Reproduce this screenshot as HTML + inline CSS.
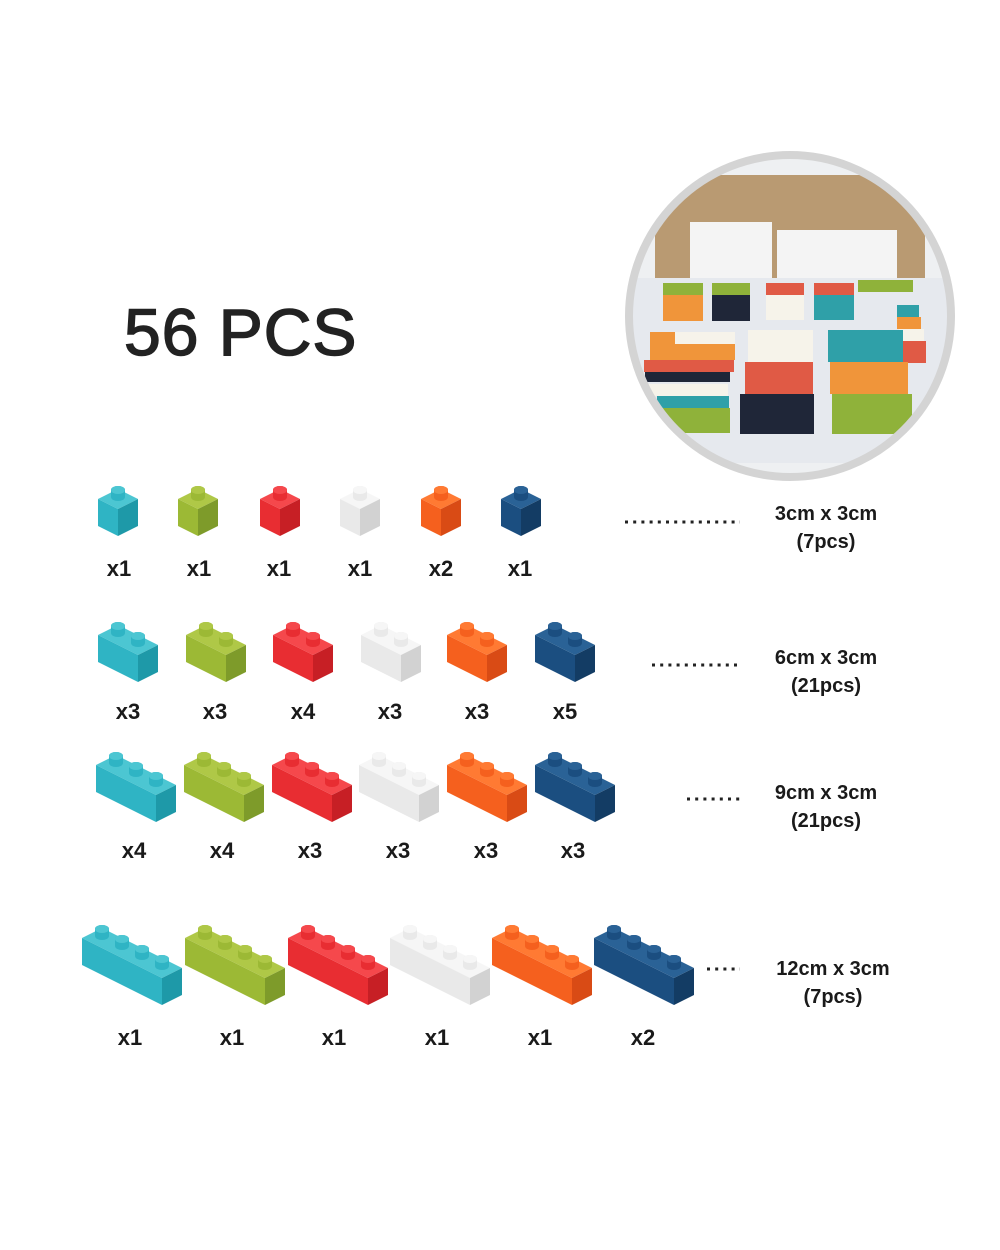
<!DOCTYPE html><html><head><style>body{margin:0;background:#fff}svg{display:block}</style></head><body>
<svg width="1000" height="1250" viewBox="0 0 1000 1250" xmlns="http://www.w3.org/2000/svg" font-family="Liberation Sans, sans-serif">
<defs>
<clipPath id="cc"><circle cx="790" cy="316" r="160"/></clipPath>
<g id="s"><path d="M-7,-2 v-7 a7,4 0 0 1 14,0 v7 a7,4 0 0 1 -14,0z" style="fill:var(--f)"/><ellipse cx="0" cy="-9" rx="7" ry="4" style="fill:var(--t)"/></g>
<g id="b1"><path style="fill:var(--t)" d="M0,0 L20,-10 L40,0 L20,10z"/><path style="fill:var(--f)" d="M0,0 L20,10 L20,37 L0,27z"/><path style="fill:var(--r)" d="M20,10 L40,0 L40,27 L20,37z"/><use href="#s" x="20" y="0"/></g>
<g id="b2"><path style="fill:var(--t)" d="M0,0 L20,-10 L60,10 L40,20z"/><path style="fill:var(--f)" d="M0,0 L40,20 L40,47 L0,27z"/><path style="fill:var(--r)" d="M40,20 L60,10 L60,37 L40,47z"/><use href="#s" x="20" y="0"/><use href="#s" x="40" y="10"/></g>
<g id="b3"><path style="fill:var(--t)" d="M0,0 L20,-10 L80,20 L60,30z"/><path style="fill:var(--f)" d="M0,0 L60,30 L60,57 L0,27z"/><path style="fill:var(--r)" d="M60,30 L80,20 L80,47 L60,57z"/><use href="#s" x="20" y="0"/><use href="#s" x="40" y="10"/><use href="#s" x="60" y="20"/></g>
<g id="b4"><path style="fill:var(--t)" d="M0,0 L20,-10 L100,30 L80,40z"/><path style="fill:var(--f)" d="M0,0 L80,40 L80,67 L0,27z"/><path style="fill:var(--r)" d="M80,40 L100,30 L100,57 L80,67z"/><use href="#s" x="20" y="0"/><use href="#s" x="40" y="10"/><use href="#s" x="60" y="20"/><use href="#s" x="80" y="30"/></g>
</defs>
<style>
.c{--t:#4cc6d2;--f:#2fb4c4;--r:#1e99a8}
.g{--t:#afc847;--f:#9cb935;--r:#7e9b2a}
.rd{--t:#f5484c;--f:#e82d32;--r:#c71f25}
.w{--t:#f6f6f6;--f:#e9e9e9;--r:#d2d2d2}
.o{--t:#ff7a33;--f:#f5601e;--r:#d94b15}
.n{--t:#2a6296;--f:#1b4e80;--r:#133c64}
</style>

<text x="124" y="355" font-size="66" fill="#222" stroke="#222" stroke-width="1.5" letter-spacing="1">56 PCS</text>

<circle cx="790" cy="316" r="164" fill="#ddd"/>
<g clip-path="url(#cc)">
<rect x="620" y="150" width="340" height="340" fill="#eef0f2"/>
<rect x="655" y="175" width="270" height="110" fill="#b99a72"/>
<rect x="690" y="222" width="82" height="57" fill="#f4f4f4"/>
<rect x="777" y="230" width="120" height="50" fill="#f4f4f4"/>
<rect x="630" y="278" width="330" height="185" fill="#e6e9ee"/>
<rect x="663" y="283" width="40" height="12" fill="#8fb23a"/><rect x="663" y="295" width="40" height="26" fill="#f0953a"/>
<rect x="712" y="283" width="38" height="12" fill="#8fb23a"/><rect x="712" y="295" width="38" height="26" fill="#1f2638"/>
<rect x="766" y="283" width="38" height="12" fill="#e05a45"/><rect x="766" y="295" width="38" height="25" fill="#f6f3ea"/>
<rect x="814" y="283" width="40" height="12" fill="#e05a45"/><rect x="814" y="295" width="40" height="25" fill="#2fa0a8"/>
<rect x="858" y="280" width="55" height="12" fill="#8fb23a"/>
<rect x="897" y="305" width="22" height="12" fill="#2fa0a8"/><rect x="897" y="317" width="24" height="12" fill="#f0953a"/><rect x="899" y="329" width="25" height="12" fill="#f6f3ea"/><rect x="900" y="341" width="26" height="22" fill="#e05a45"/>
<rect x="650" y="332" width="85" height="28" fill="#f0953a"/><rect x="675" y="332" width="60" height="12" fill="#f6f3ea"/>
<rect x="644" y="360" width="90" height="12" fill="#e05a45"/><rect x="645" y="372" width="85" height="10" fill="#1f2638"/><rect x="648" y="384" width="80" height="12" fill="#f6f3ea"/><rect x="657" y="396" width="72" height="12" fill="#2fa0a8"/><rect x="660" y="408" width="70" height="25" fill="#8fb23a"/>
<rect x="748" y="330" width="65" height="32" fill="#f6f3ea"/><rect x="745" y="362" width="68" height="32" fill="#e05a45"/><rect x="740" y="394" width="74" height="40" fill="#1f2638"/>
<rect x="828" y="330" width="75" height="32" fill="#2fa0a8"/><rect x="830" y="362" width="78" height="32" fill="#f0953a"/><rect x="832" y="394" width="80" height="40" fill="#8fb23a"/>
</g>
<circle cx="790" cy="316" r="161" fill="none" stroke="#d4d4d4" stroke-width="8"/>

<use href="#b1" class="c" x="98" y="499"/><use href="#b1" class="g" x="178" y="499"/><use href="#b1" class="rd" x="260" y="499"/><use href="#b1" class="w" x="340" y="499"/><use href="#b1" class="o" x="421" y="499"/><use href="#b1" class="n" x="501" y="499"/>
<use href="#b2" class="c" x="98" y="635"/><use href="#b2" class="g" x="186" y="635"/><use href="#b2" class="rd" x="273" y="635"/><use href="#b2" class="w" x="361" y="635"/><use href="#b2" class="o" x="447" y="635"/><use href="#b2" class="n" x="535" y="635"/>
<use href="#b3" class="c" x="96" y="765"/><use href="#b3" class="g" x="184" y="765"/><use href="#b3" class="rd" x="272" y="765"/><use href="#b3" class="w" x="359" y="765"/><use href="#b3" class="o" x="447" y="765"/><use href="#b3" class="n" x="535" y="765"/>
<use href="#b4" class="c" x="82" y="938"/><use href="#b4" class="g" x="185" y="938"/><use href="#b4" class="rd" x="288" y="938"/><use href="#b4" class="w" x="390" y="938"/><use href="#b4" class="o" x="492" y="938"/><use href="#b4" class="n" x="594" y="938"/>

<g font-size="22" font-weight="bold" fill="#1a1a1a" text-anchor="middle">
<text x="119" y="576">x1</text><text x="199" y="576">x1</text><text x="279" y="576">x1</text><text x="360" y="576">x1</text><text x="441" y="576">x2</text><text x="520" y="576">x1</text>
<text x="128" y="719">x3</text><text x="215" y="719">x3</text><text x="303" y="719">x4</text><text x="390" y="719">x3</text><text x="477" y="719">x3</text><text x="565" y="719">x5</text>
<text x="134" y="858">x4</text><text x="222" y="858">x4</text><text x="310" y="858">x3</text><text x="398" y="858">x3</text><text x="486" y="858">x3</text><text x="573" y="858">x3</text>
<text x="130" y="1045">x1</text><text x="232" y="1045">x1</text><text x="334" y="1045">x1</text><text x="437" y="1045">x1</text><text x="540" y="1045">x1</text><text x="643" y="1045">x2</text>
</g>
<g font-size="20" font-weight="bold" fill="#1a1a1a" text-anchor="middle">
<text x="826" y="520">3cm x 3cm</text><text x="826" y="548">(7pcs)</text>
<text x="826" y="664">6cm x 3cm</text><text x="826" y="692">(21pcs)</text>
<text x="826" y="799">9cm x 3cm</text><text x="826" y="827">(21pcs)</text>
<text x="833" y="975">12cm x 3cm</text><text x="833" y="1003">(7pcs)</text>
</g>
<g stroke="#222" stroke-width="3" stroke-dasharray="3 5.2">
<line x1="625" y1="522" x2="740" y2="522"/>
<line x1="652" y1="665" x2="740" y2="665"/>
<line x1="687" y1="799" x2="740" y2="799"/>
<line x1="707" y1="969" x2="740" y2="969"/>
</g>
</svg>
</body></html>
